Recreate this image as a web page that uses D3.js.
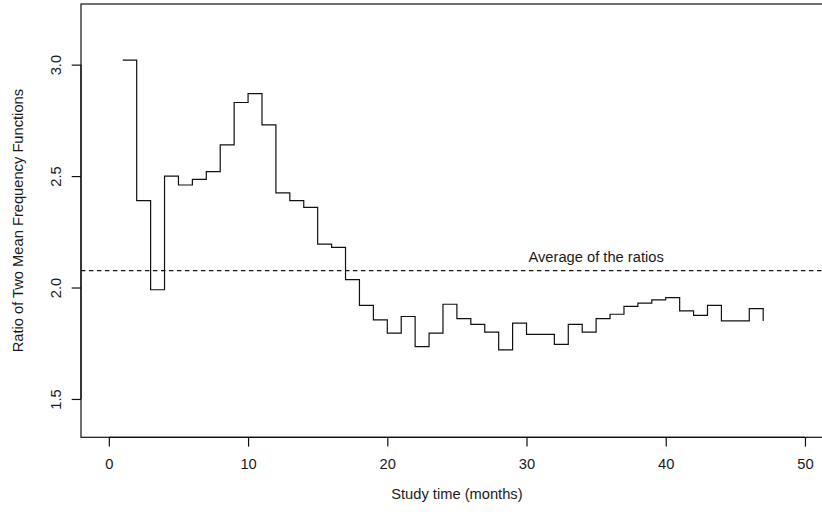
<!DOCTYPE html>
<html>
<head>
<meta charset="utf-8">
<script src="https://cdn.jsdelivr.net/npm/d3@7"></script>
<style>
  html, body { margin: 0; padding: 0; background: #fff; }
  svg { display: block; }
  text { font-family: "Liberation Sans", Arial, Helvetica, sans-serif; font-size: 14.7px; fill: #1a1a1a; }
</style>
</head>
<body>
<svg id="chart" width="822" height="512"></svg>
<script>
// Study month at which each ratio is evaluated
const months = d3.range(1, 48);
// Ratio of the two mean frequency functions, one value per month
const ratios = [
  3.02, 2.39, 1.99, 2.50, 2.46, 2.485, 2.52, 2.64, 2.83, 2.87,
  2.73, 2.425, 2.39, 2.36, 2.195, 2.18, 2.035, 1.92, 1.855, 1.795,
  1.87, 1.735, 1.795, 1.925, 1.86, 1.835, 1.80, 1.72, 1.84, 1.79,
  1.79, 1.745, 1.835, 1.80, 1.86, 1.88, 1.915, 1.93, 1.945, 1.955,
  1.895, 1.875, 1.92, 1.85, 1.85, 1.905, 1.85
];
// Axis ticks
const xTicks = [0, 10, 20, 30, 40, 50];
const yTicks = [1.5, 2.0, 2.5, 3.0];
// Axis limits (before the usual 4% padding)
const xLim = [0, 50];
const yLim = [1.4, 3.2];
// Annotation placed at (month, ratio)
const avgLabel = { text: "Average of the ratios", x: 35, y: 2.138 };

const svg = d3.select("#chart");
const pad = (lim) => { const d = (lim[1] - lim[0]) * 0.04; return [lim[0] - d, lim[1] + d]; };

const plot = { left: 81, top: 4, right: 832.8, bottom: 437.3 };
const x = d3.scaleLinear().domain(pad(xLim)).range([plot.left, plot.right]);
const y = d3.scaleLinear().domain(pad(yLim)).range([plot.bottom, plot.top]);

const ink = "#111";
const lw = 1.2;

// Step curve: hold each ratio until the next month
const pts = months.map((m, i) => [m, ratios[i]]);
const line = d3.line().x(d => x(d[0])).y(d => y(d[1])).curve(d3.curveStepAfter);
svg.append("path")
  .datum(pts)
  .attr("d", line)
  .attr("fill", "none")
  .attr("stroke", ink)
  .attr("stroke-width", lw)
  .attr("stroke-linejoin", "miter");

// Horizontal reference at the mean ratio
const avg = d3.mean(ratios);
svg.append("line")
  .attr("x1", plot.left).attr("x2", plot.right)
  .attr("y1", y(avg)).attr("y2", y(avg))
  .attr("stroke", ink)
  .attr("stroke-width", lw)
  .attr("stroke-dasharray", "4.4,3.6");

svg.append("text")
  .attr("x", x(avgLabel.x))
  .attr("y", y(avgLabel.y) + 5.3)
  .attr("text-anchor", "middle")
  .text(avgLabel.text);

// Frame around the plotting region
svg.append("rect")
  .attr("x", plot.left).attr("y", plot.top)
  .attr("width", plot.right - plot.left)
  .attr("height", plot.bottom - plot.top)
  .attr("fill", "none")
  .attr("stroke", ink)
  .attr("stroke-width", lw);

// Bottom axis
const xAxis = d3.axisBottom(x).tickValues(xTicks).tickSize(9.3).tickPadding(0).tickFormat(d3.format("d"));
const gx = svg.append("g").attr("transform", `translate(0,${plot.bottom})`).call(xAxis);
gx.select(".domain")
  .attr("d", `M${x(xTicks[0])},0H${x(xTicks[xTicks.length - 1])}`)
  .attr("stroke", ink).attr("stroke-width", lw);
gx.selectAll(".tick line").attr("stroke", ink).attr("stroke-width", lw);
gx.selectAll(".tick text")
  .attr("y", 32).attr("dy", null)
  .style("font-size", "14.7px")
  .style("font-family", "'Liberation Sans', Arial, Helvetica, sans-serif")
  .attr("fill", "#1a1a1a");

// Left axis with labels running parallel to it
const yAxis = d3.axisLeft(y).tickValues(yTicks).tickSize(9.3).tickPadding(0).tickFormat(d3.format(".1f"));
const gy = svg.append("g").attr("transform", `translate(${plot.left},0)`).call(yAxis);
gy.select(".domain")
  .attr("d", `M0,${y(yTicks[0])}V${y(yTicks[yTicks.length - 1])}`)
  .attr("stroke", ink).attr("stroke-width", lw);
gy.selectAll(".tick line").attr("stroke", ink).attr("stroke-width", lw);
gy.selectAll(".tick text")
  .attr("x", null).attr("dy", null)
  .attr("text-anchor", "middle")
  .attr("transform", "translate(-20.5,0) rotate(-90)")
  .style("font-size", "14.7px")
  .style("font-family", "'Liberation Sans', Arial, Helvetica, sans-serif")
  .attr("fill", "#1a1a1a");

// Axis titles
svg.append("text")
  .attr("x", (plot.left + plot.right) / 2)
  .attr("y", 499)
  .attr("text-anchor", "middle")
  .text("Study time (months)");

svg.append("text")
  .attr("transform", `translate(23,${(plot.top + plot.bottom) / 2}) rotate(-90)`)
  .attr("text-anchor", "middle")
  .text("Ratio of Two Mean Frequency Functions");
</script>
</body>
</html>
